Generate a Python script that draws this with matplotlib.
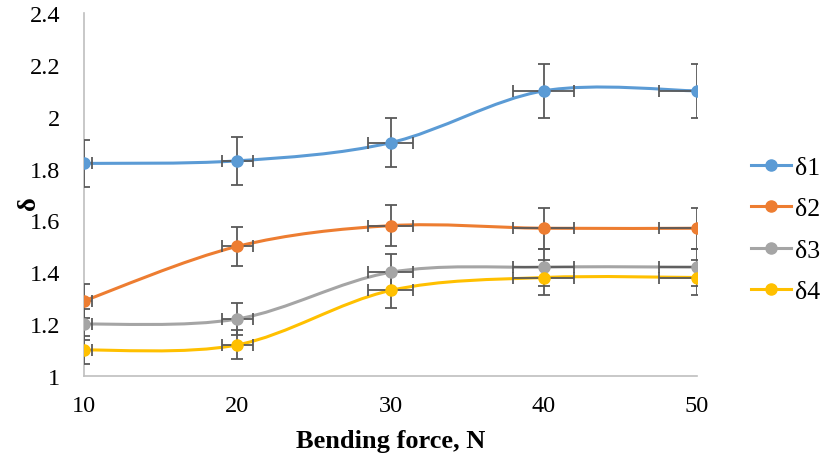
import numpy as np
import matplotlib
matplotlib.use('Agg')
from matplotlib import pyplot as plt
from matplotlib.path import Path
from matplotlib.patches import PathPatch
from matplotlib.lines import Line2D
from matplotlib.ticker import FuncFormatter

plt.rcParams['font.family'] = ['Liberation Serif', 'DejaVu Serif']

# Data
force = [10, 20, 30, 40, 50]
d1 = [1.82, 1.83, 1.90, 2.10, 2.10]
d2 = [1.29, 1.50, 1.58, 1.57, 1.57]
d3 = [1.20, 1.22, 1.40, 1.42, 1.42]
d4 = [1.10, 1.12, 1.33, 1.38, 1.38]
labels = ['δ1', 'δ2', 'δ3', 'δ4']
colors = ['#5B9BD5', '#ED7D31', '#A5A5A5', '#FFC000']
ERR_PCT = 0.05  # Excel style 5% error bars on both axes


def smooth_path(x, y):
    # Excel-like smoothed line: Catmull-Rom turned into cubic Bezier segments
    pts = np.column_stack([x, y]).astype(float)
    n = len(pts)
    verts = [pts[0]]
    codes = [Path.MOVETO]
    for i in range(n - 1):
        p0 = pts[max(i - 1, 0)]
        p1 = pts[i]
        p2 = pts[i + 1]
        p3 = pts[min(i + 2, n - 1)]
        c1 = p1 + (p2 - p0) / 6.0
        c2 = p2 - (p3 - p1) / 6.0
        verts += [c1, c2, p2]
        codes += [Path.CURVE4] * 3
    return Path(verts, codes)


fig = plt.figure(figsize=(8.27, 4.6), dpi=100)
ax = fig.add_axes([0.1016, 0.1804, 0.7412, 0.789])

handles = []
for ys, lab, col in zip([d1, d2, d3, d4], labels, colors):
    xs = np.array(force, dtype=float)
    ys = np.array(ys, dtype=float)
    ax.add_patch(PathPatch(smooth_path(xs, ys), facecolor='none', edgecolor=col,
                           lw=2.2, zorder=2))
    ax.errorbar(xs, ys, xerr=xs * ERR_PCT, yerr=ys * ERR_PCT, fmt='none',
                ecolor='#595959', elinewidth=1.3, capsize=4, capthick=1.3, zorder=3)
    ax.plot(xs, ys, 'o', color=col, ms=8, zorder=4)
    handles.append(Line2D([], [], color=col, lw=2.2, marker='o', ms=8))

ax.set_xlim(10, 50)
ax.set_ylim(1, 2.4)
ax.set_xticks(force)
ax.set_yticks(np.arange(1, 2.41, 0.2))
ax.yaxis.set_major_formatter(FuncFormatter(lambda v, p: '%g' % round(v, 2)))
ax.tick_params(length=0, labelsize=17.5, colors='black')
ax.tick_params(axis='y', pad=17)
ax.tick_params(axis='x', pad=14)
for s in ['top', 'right']:
    ax.spines[s].set_visible(False)
for s in ['left', 'bottom']:
    ax.spines[s].set_color('#BFBFBF')
    ax.spines[s].set_linewidth(1.2)

ax.set_xlabel('Bending force, N', fontsize=19, fontweight='bold')
ax.xaxis.set_label_coords(0.5, -0.146)
ax.set_ylabel('δ', fontsize=19, fontweight='bold')
ax.yaxis.set_label_coords(-0.072, 0.48)

fig.legend(handles, labels, loc='center left', bbox_to_anchor=(0.908, 0.499),
           frameon=False, fontsize=18.5, handlelength=1.55, handletextpad=0.15,
           labelspacing=0.72, borderpad=0, borderaxespad=0)

fig.savefig('out.png', dpi=100)
